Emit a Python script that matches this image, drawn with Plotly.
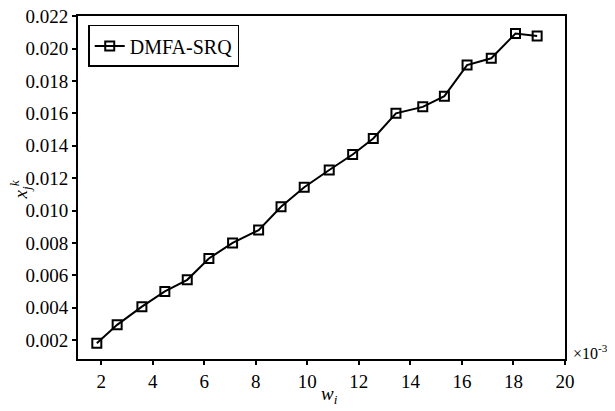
import plotly.graph_objects as go

# x in units of 1e-3
w_i = [1.83, 2.62, 3.58, 4.47, 5.34, 6.18, 7.10, 8.11, 8.98, 9.88,
       10.85, 11.76, 12.56, 13.44, 14.48, 15.32, 16.20, 17.14, 18.08, 18.92]
x_jk = [0.00180, 0.00294, 0.00406, 0.00500, 0.00572, 0.00704, 0.00800, 0.00879, 0.01023, 0.01144,
        0.01250, 0.01346, 0.01445, 0.01600, 0.01640, 0.01706, 0.01898, 0.01940, 0.02093, 0.02078]
x_ticks = [2, 4, 6, 8, 10, 12, 14, 16, 18, 20]
y_ticks = [0.002, 0.004, 0.006, 0.008, 0.010, 0.012, 0.014, 0.016, 0.018, 0.020, 0.022]
series_name = "DMFA-SRQ"

FONT = "Liberation Serif"
tf = dict(family=FONT, size=19, color="black")

fig = go.Figure()
fig.add_trace(go.Scatter(
    x=w_i, y=x_jk, mode="lines+markers", name=series_name,
    line=dict(color="black", width=2),
    marker=dict(symbol="square-open", size=9, color="black", line=dict(width=2, color="black")),
))

# page body has an 8px margin, so the figure is drawn 8px in from the window corner
fig.update_layout(
    width=607, height=403,
    margin=dict(l=70, r=50, t=8, b=52),
    paper_bgcolor="white", plot_bgcolor="white",
    font=tf,
    showlegend=True,
    legend=dict(x=0.021, y=0.974, xanchor="left", yanchor="top",
                bordercolor="black", borderwidth=1.5, bgcolor="white",
                font=dict(family=FONT, size=20, color="black"),
                itemwidth=30, tracegroupgap=0),
    xaxis=dict(range=[1.1, 20.001], tickvals=x_ticks, ticktext=[str(t) for t in x_ticks],
               tickfont=tf, automargin=False, ticklabeloverflow="allow",
               showline=True, linecolor="black", linewidth=2, mirror=True,
               ticks="outside", ticklen=4, tickwidth=1.5, tickcolor="black",
               showgrid=False, zeroline=False),
    yaxis=dict(range=[0.00083, 0.02201], tickvals=y_ticks, ticktext=[f"{t:.3f}" for t in y_ticks],
               tickfont=tf, automargin=False, ticklabeloverflow="allow",
               showline=True, linecolor="black", linewidth=2, mirror=True,
               ticks="outside", ticklen=4, tickwidth=1.5, tickcolor="black",
               showgrid=False, zeroline=False),
)

fig.add_annotation(xref="paper", yref="paper", x=0.517, y=-0.105, xanchor="center", yanchor="middle",
                   text="<i>w</i><sub><i>i</i></sub>", showarrow=False, font=tf)
fig.add_annotation(xref="paper", yref="paper", x=-0.118, y=0.493, xanchor="center", yanchor="middle",
                   text="<i>x</i><sub><i>j</i></sub><sup><i>k</i></sup>", showarrow=False,
                   textangle=-90, font=tf)
fig.add_annotation(xref="paper", yref="paper", x=1.012, y=0.02, xanchor="left", yanchor="middle",
                   text="×10<sup>-3</sup>", showarrow=False,
                   font=dict(family=FONT, size=16, color="black"))

fig.write_html("out.html")
